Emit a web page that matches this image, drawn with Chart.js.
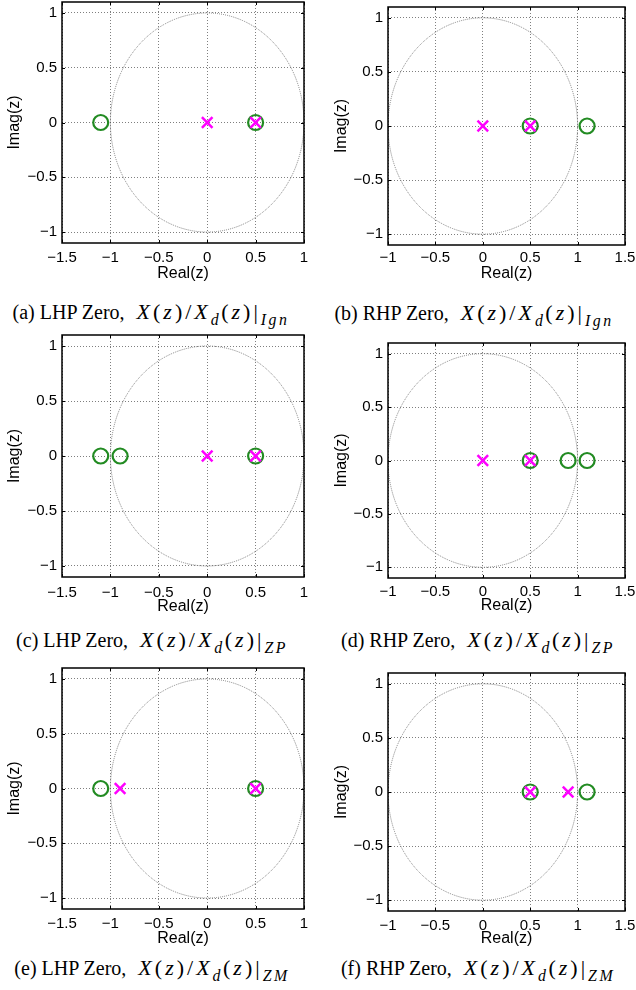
<!DOCTYPE html>
<html lang="en">
<head>
<meta charset="UTF-8">
<title>Pole-zero plots</title>
<script src="https://cdn.jsdelivr.net/npm/chart.js@4.4.1/dist/chart.umd.min.js"></script>
<style>
    body {
        margin: 0;
        background: #fff;
        width: 636px;
        height: 990px;
        position: relative;
        overflow: hidden;
    }
    canvas { position: absolute; }
    .caption {
        position: absolute;
        font-family: "Liberation Serif", "DejaVu Serif", serif;
        font-size: 20px;
        white-space: nowrap;
        transform: translate(-50%, -50%);
        color: #000;
    }
    .caption .math { font-size: 22px; letter-spacing: 3px; margin-left: 12px; }
    .caption i { font-style: italic; }
    .caption sub { font-size: 72%; vertical-align: -0.35em; line-height: 0; letter-spacing: 2.5px; }
</style>
</head>
<body>
<script>
    // real parts of the zeros (o) and poles (x), all on the real axis
    const zerosA = [-1.1, 0.5];
    const polesA = [0, 0.5];
    const zerosB = [0.5, 1.1];
    const polesB = [0, 0.5];
    const zerosC = [-1.1, -0.9, 0.5];
    const polesC = [0, 0.5];
    const zerosD = [0.5, 0.9, 1.1];
    const polesD = [0, 0.5];
    const zerosE = [-1.1, 0.5];
    const polesE = [-0.9, 0.5];
    const zerosF = [0.5, 1.1];
    const polesF = [0.5, 0.9];

    const lhpXTicks = [-1.5, -1, -0.5, 0, 0.5, 1];
    const rhpXTicks = [-1, -0.5, 0, 0.5, 1, 1.5];
    const yTicks = [-1, -0.5, 0, 0.5, 1];
    const lhpXRange = [-1.5, 1];
    const rhpXRange = [-1, 1.5];
    const yRange = [-1.1, 1.1];
    const unitRadius = 1;

    const captionLetters = ['a', 'b', 'c', 'd', 'e', 'f'];
    const captionSides = ['LHP', 'RHP', 'LHP', 'RHP', 'LHP', 'RHP'];
    const captionSubs = ['Ign', 'Ign', 'ZP', 'ZP', 'ZM', 'ZM'];

    const zeroColor = 'rgb(34,139,34)';
    const poleColor = '#ff00ff';

    // pixel layout of each panel: plot box, label offsets, caption centre
    const panels = [
        { zeros: zerosA, poles: polesA, xr: lhpXRange, xt: lhpXTicks, col: 0,   L: 62,  R: 304, T: 2,   B: 243, tick: 6, title: 30, yTitle: 15, capX: 151, capY: 312 },
        { zeros: zerosB, poles: polesB, xr: rhpXRange, xt: rhpXTicks, col: 318, L: 388, R: 625, T: 7,   B: 245, tick: 4, title: 28, yTitle: 24, capX: 474, capY: 313 },
        { zeros: zerosC, poles: polesC, xr: lhpXRange, xt: lhpXTicks, col: 0,   L: 62,  R: 304, T: 335, B: 577, tick: 7, title: 29, yTitle: 15, capX: 152, capY: 640 },
        { zeros: zerosD, poles: polesD, xr: rhpXRange, xt: rhpXTicks, col: 318, L: 388, R: 625, T: 343, B: 578, tick: 5, title: 27, yTitle: 24, capX: 478, capY: 640 },
        { zeros: zerosE, poles: polesE, xr: lhpXRange, xt: lhpXTicks, col: 0,   L: 62,  R: 304, T: 668, B: 909, tick: 6, title: 29, yTitle: 15, capX: 152, capY: 968 },
        { zeros: zerosF, poles: polesF, xr: rhpXRange, xt: rhpXTicks, col: 318, L: 388, R: 625, T: 673, B: 911, tick: 6, title: 27, yTitle: 24, capX: 478, capY: 968 }
    ];

    function fmt(v) {
        return v < 0 ? '\u2212' + Math.abs(v) : String(v);
    }

    // unit circle, box and inward ticks, drawn through the chart's scales
    const zplanePlugin = {
        id: 'zplane',
        beforeDatasetsDraw(chart) {
            const { ctx, chartArea, scales: { x, y } } = chart;
            const cx = x.getPixelForValue(0);
            const cy = y.getPixelForValue(0);
            const rx = x.getPixelForValue(unitRadius) - cx;
            const ry = cy - y.getPixelForValue(unitRadius);
            ctx.save();
            ctx.beginPath();
            ctx.rect(chartArea.left, chartArea.top, chartArea.right - chartArea.left, chartArea.bottom - chartArea.top);
            ctx.clip();
            ctx.strokeStyle = '#808080';
            ctx.lineWidth = 1;
            ctx.setLineDash([1, 1]);
            ctx.beginPath();
            ctx.ellipse(cx, cy, rx, ry, 0, 0, Math.PI * 2);
            ctx.stroke();
            ctx.restore();
        },
        afterDraw(chart) {
            const { ctx, chartArea: a, scales: { x, y } } = chart;
            ctx.save();
            ctx.strokeStyle = '#000';
            ctx.lineWidth = 1;
            ctx.setLineDash([]);
            ctx.beginPath();
            x.ticks.forEach(t => {
                const px = Math.round(x.getPixelForValue(t.value)) + 0.5;
                ctx.moveTo(px, a.bottom); ctx.lineTo(px, a.bottom - 3);
                ctx.moveTo(px, a.top); ctx.lineTo(px, a.top + 3);
            });
            y.ticks.forEach(t => {
                const py = Math.round(y.getPixelForValue(t.value)) + 0.5;
                ctx.moveTo(a.left, py); ctx.lineTo(a.left + 3, py);
                ctx.moveTo(a.right, py); ctx.lineTo(a.right - 3, py);
            });
            ctx.stroke();
            ctx.lineWidth = 1.5;
            ctx.strokeRect(a.left, a.top, a.right - a.left, a.bottom - a.top);
            ctx.restore();
        }
    };

    const tickFont = { family: '"Liberation Sans", Arial, sans-serif', size: 15 };
    const titleFont = { family: '"Liberation Sans", Arial, sans-serif', size: 16 };

    panels.forEach((p, i) => {
        const top = p.T - 4;
        const xh = p.title + 10;
        const height = p.B + xh - top;
        const canvas = document.createElement('canvas');
        canvas.width = 318;
        canvas.height = height;
        canvas.style.left = p.col + 'px';
        canvas.style.top = top + 'px';
        document.body.appendChild(canvas);

        new Chart(canvas.getContext('2d'), {
            type: 'scatter',
            data: {
                datasets: [
                    {
                        label: 'Poles',
                        data: p.poles.map(v => ({ x: v, y: 0 })),
                        pointStyle: 'crossRot',
                        pointRadius: 7.5,
                        borderColor: poleColor,
                        borderWidth: 2.5
                    },
                    {
                        label: 'Zeros',
                        data: p.zeros.map(v => ({ x: v, y: 0 })),
                        pointStyle: 'circle',
                        pointRadius: 7.5,
                        backgroundColor: 'rgba(0,0,0,0)',
                        borderColor: zeroColor,
                        borderWidth: 2.2
                    }
                ]
            },
            options: {
                responsive: false,
                animation: false,
                layout: { autoPadding: false, padding: { left: 0, right: p.col + 318 - p.R, top: 4, bottom: 0 } },
                plugins: { legend: { display: false }, tooltip: { enabled: false } },
                scales: {
                    x: {
                        type: 'linear',
                        min: p.xr[0],
                        max: p.xr[1],
                        afterBuildTicks: s => { s.ticks = p.xt.map(v => ({ value: v })); },
                        afterFit: s => { s.height = xh; s.paddingLeft = 0; s.paddingRight = 0; },
                        ticks: { callback: fmt, font: tickFont, color: '#000', padding: p.tick, maxRotation: 0, autoSkip: false },
                        grid: { color: 'rgba(0,0,0,0.5)', drawTicks: false },
                        border: { display: false, dash: [1, 2] },
                        title: { display: true, text: 'Real(z)', font: titleFont, color: '#000', padding: 0 }
                    },
                    y: {
                        type: 'linear',
                        min: yRange[0],
                        max: yRange[1],
                        afterBuildTicks: s => { s.ticks = yTicks.map(v => ({ value: v })); },
                        afterFit: s => { s.width = p.L - p.col; s.paddingTop = 0; s.paddingBottom = 0; },
                        ticks: { callback: fmt, font: tickFont, color: '#000', padding: 5, autoSkip: false },
                        grid: { color: 'rgba(0,0,0,0.5)', drawTicks: false },
                        border: { display: false, dash: [1, 2] },
                        title: { display: true, text: 'Imag(z)', font: titleFont, color: '#000', padding: { top: p.yTitle - 9.6, bottom: 0 } }
                    }
                }
            },
            plugins: [zplanePlugin]
        });

        const cap = document.createElement('div');
        cap.className = 'caption';
        cap.style.left = p.capX + 'px';
        cap.style.top = p.capY + 'px';
        cap.innerHTML = '(' + captionLetters[i] + ') ' + captionSides[i] + ' Zero,' +
            '<span class="math"><i>X</i>(<i>z</i>)/<i>X</i><sub><i>d</i></sub>(<i>z</i>)|<sub><i>' + captionSubs[i] + '</i></sub></span>';
        document.body.appendChild(cap);
    });
</script>
</body>
</html>
